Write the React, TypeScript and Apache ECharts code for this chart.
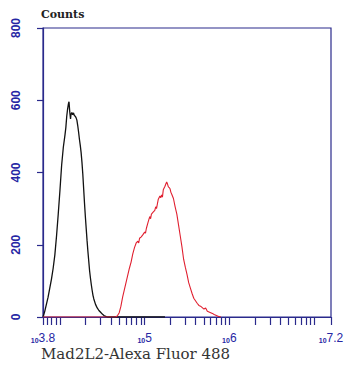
import React, { useEffect, useRef } from "react";
import * as echarts from "echarts";

const blackLog = [3.8, 3.82, 3.84, 3.86, 3.88, 3.9, 3.92, 3.94, 3.96, 3.98, 4.0, 4.02, 4.04, 4.06, 4.07, 4.08, 4.09, 4.1, 4.107, 4.115, 4.125, 4.13, 4.14, 4.15, 4.16, 4.17, 4.18, 4.19, 4.2, 4.21, 4.22, 4.23, 4.24, 4.25, 4.26, 4.27, 4.28, 4.29, 4.3, 4.31, 4.32, 4.33, 4.34, 4.35, 4.36, 4.37, 4.38, 4.39, 4.4, 4.42, 4.44, 4.46, 4.48, 4.5, 4.52, 4.54, 4.56, 4.6, 5.24];
const blackCounts = [0, 15, 35, 55, 80, 105, 135, 172, 225, 285, 350, 420, 470, 505, 525, 555, 575, 590, 596, 570, 548, 560, 566, 560, 565, 558, 556, 552, 545, 530, 512, 492, 475, 455, 428, 395, 355, 315, 278, 245, 212, 182, 155, 128, 108, 90, 74, 60, 50, 35, 25, 18, 13, 8, 4, 2, 0, 0, 0];

const redLog = [3.8, 4.66, 4.68, 4.7, 4.72, 4.74, 4.76, 4.78, 4.8, 4.82, 4.84, 4.86, 4.88, 4.9, 4.92, 4.93, 4.94, 4.96, 4.98, 5.0, 5.01, 5.02, 5.04, 5.06, 5.07, 5.08, 5.1, 5.12, 5.13, 5.14, 5.16, 5.18, 5.19, 5.2, 5.21, 5.22, 5.24, 5.25, 5.26, 5.27, 5.28, 5.29, 5.3, 5.31, 5.32, 5.34, 5.36, 5.38, 5.4, 5.42, 5.44, 5.46, 5.48, 5.5, 5.52, 5.54, 5.56, 5.58, 5.6, 5.62, 5.64, 5.66, 5.68, 5.7, 5.72, 5.74, 5.76, 5.78, 5.8, 5.82, 5.84, 5.86, 5.88, 5.9];
const redCounts = [0, 0, 4, 12, 30, 55, 75, 95, 115, 135, 152, 175, 192, 205, 210, 205, 218, 222, 228, 235, 232, 245, 262, 278, 272, 285, 290, 295, 305, 300, 325, 335, 330, 338, 332, 352, 362, 368, 374, 368, 360, 358, 355, 345, 340, 328, 305, 285, 255, 225, 195, 160, 138, 118, 95, 80, 65, 52, 45, 38, 32, 30, 26, 22, 25, 16, 14, 12, 10, 7, 5, 3, 1, 0];

const xLabelValues = [3.8, 5, 6, 7.2];
const yTicks = [0, 200, 400, 600, 800];

const navy = "#2a2a8c";
const labelBlue = "#2626a4";
const serif = "'DejaVu Serif', 'Liberation Serif', serif";
const sans = "'Liberation Sans', Arial, sans-serif";

function logTicks(min: number, max: number): number[] {
  const out: number[] = [];
  for (let e = 3; e <= 7; e++) {
    for (let k = 1; k <= 9; k++) {
      const v = Math.log10(k * Math.pow(10, e));
      if (v >= min - 1e-9 && v <= max + 1e-9) out.push(v);
    }
  }
  out.push(min, max);
  return out;
}

export default function App() {
  const ref = useRef<HTMLDivElement>(null);
  useEffect(() => {
    if (!ref.current) return;
    const chart = echarts.init(ref.current, null, { renderer: "svg" });
    const black = blackLog.map((x, i) => [x, blackCounts[i]]);
    const red = redLog.map((x, i) => [x, redCounts[i]]);
    chart.setOption({
      animation: false,
      backgroundColor: "#ffffff",
      grid: {
        left: 43,
        top: 28,
        right: 16,
        bottom: 48,
        show: true,
        borderColor: navy,
        borderWidth: 1.2,
        backgroundColor: "transparent",
      },
      xAxis: {
        type: "value",
        min: 3.8,
        max: 7.2,
        axisLine: { show: true, onZero: false, lineStyle: { color: navy, width: 1.2 } },
        axisTick: {
          show: true,
          inside: false,
          length: 8,
          customValues: logTicks(3.8, 7.2),
          lineStyle: { color: navy, width: 1.2 },
        },
        splitLine: { show: false },
        axisLabel: {
          customValues: xLabelValues,
          margin: 14,
          formatter: (v: number) => `{a|10}{b|${String(Math.round(v * 10) / 10)}}`,
          rich: {
            a: { fontSize: 7, fontFamily: sans, fontWeight: "bold", color: labelBlue, verticalAlign: "bottom", padding: [6, 0, 0, 0] },
            b: { fontSize: 12, fontFamily: sans, color: labelBlue, verticalAlign: "bottom" },
          },
        },
      },
      yAxis: {
        type: "value",
        min: 0,
        max: 800,
        interval: 200,
        axisLine: { show: true, lineStyle: { color: navy, width: 1.2 } },
        axisTick: { show: true, length: 6, lineStyle: { color: navy, width: 1.2 } },
        splitLine: { show: false },
        axisLabel: {
          rotate: 90,
          margin: 21,
          color: labelBlue,
          fontSize: 12,
          fontWeight: "bold",
          fontFamily: sans,
          formatter: (v: number) => (yTicks.includes(v) ? String(v) : ""),
        },
      },
      graphic: [
        {
          type: "text",
          left: 41,
          top: 9,
          style: { text: "Counts", font: `bold 11px ${serif}`, fill: "#222" },
        },
        {
          type: "text",
          left: 41,
          top: 346,
          style: { text: "Mad2L2-Alexa Fluor 488", font: `15px ${serif}`, fill: "#333" },
        },
      ],
      series: [
        {
          type: "line",
          data: black,
          showSymbol: false,
          lineStyle: { color: "#111111", width: 1.3 },
          z: 2,
        },
        {
          type: "line",
          data: red,
          showSymbol: false,
          lineStyle: { color: "#e02030", width: 1.1 },
          z: 3,
        },
      ],
    });
    return () => chart.dispose();
  }, []);
  return (
    <div
      ref={ref}
      style={{ position: "fixed", left: 0, top: 0, width: 347, height: 365 }}
    />
  );
}
